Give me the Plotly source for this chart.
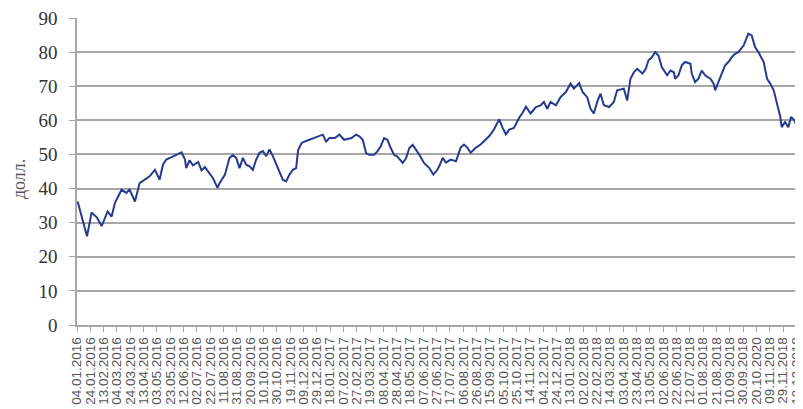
import pandas as pd
import plotly.graph_objects as go

START = "2016-01-04"

# days since 04.01.2016 and price (долл.)
day_offset = [
    1, 7, 11, 15, 22, 30, 37, 46, 52, 57, 67, 74, 79, 87, 94, 102, 109, 117,
    124, 129, 134, 142, 149, 157, 162, 164, 169, 174, 182, 187, 192, 197, 204,
    211, 214, 222, 229, 234, 239, 244, 249, 254, 259, 264, 269, 274, 279, 284,
    289, 294, 299, 304, 309, 314, 319, 324, 329, 332, 337, 342, 349, 357, 364,
    369, 374, 379, 387, 394, 401, 412, 419, 424, 429, 434, 439, 446, 451, 456,
    461, 466, 471, 476, 481, 489, 494, 499, 504, 509, 514, 521, 529, 535, 541,
    544, 549, 554, 561, 569, 576, 581, 586, 591, 599, 606, 614, 619, 626, 634,
    639, 644, 649, 656, 664, 669, 674, 681, 689, 696, 701, 706, 711, 719, 726,
    734, 741, 746, 754, 759, 766, 771, 776, 781, 786, 791, 799, 806, 811, 821,
    826, 831, 836, 841, 849, 854, 858, 863, 868, 873, 878, 886, 891, 896, 898,
    903, 908, 913, 921, 923, 928, 933, 938, 943, 951, 956, 958, 963, 968, 973,
    978, 983, 988, 993, 1001, 1006, 1008, 1013, 1018, 1023, 1031, 1036, 1041,
    1046, 1051, 1056, 1058, 1063, 1068, 1072, 1077, 1081, 1086, 1088,
]
price = [
    36.2, 31.5, 29.0, 26.0, 33.0, 31.5, 29.0, 33.3, 31.8, 35.8, 39.7, 38.7,
    39.7, 36.2, 41.6, 42.6, 43.6, 45.5, 42.6, 47.0, 48.5, 49.2, 49.9, 50.6,
    48.6, 46.0, 48.3, 46.8, 47.8, 45.3, 46.3, 44.8, 43.1, 40.2, 41.6, 44.0,
    49.0, 49.8, 49.0, 46.0, 49.0, 47.0, 46.5, 45.5, 48.5, 50.5, 51.0, 49.5,
    51.5, 49.5, 47.0, 44.6, 42.6, 42.1, 44.1, 45.5, 46.0, 51.3, 53.3, 53.8,
    54.3, 54.8, 55.3, 55.8, 53.8, 54.8, 54.8, 55.8, 54.3, 54.8, 55.8, 55.3,
    54.3, 50.4, 49.9, 49.9, 50.9, 52.4, 54.8, 54.3, 51.9, 49.9, 49.4, 47.5,
    48.9, 51.9, 52.8, 51.4, 49.9, 47.5, 46.0, 44.1, 45.5, 46.6, 49.0, 47.6,
    48.5, 48.0, 52.0, 52.9, 52.0, 50.5, 52.0, 52.9, 54.4, 55.4, 57.3, 60.3,
    57.8, 55.9, 57.3, 57.8, 60.8, 62.2, 64.0, 62.0, 63.9, 64.4, 65.4, 63.4,
    65.4, 64.4, 66.8, 68.3, 70.8, 69.3, 70.9, 68.3, 66.8, 63.4, 62.0, 65.4,
    67.8, 64.4, 63.9, 65.4, 68.8, 69.3, 65.8, 72.2, 74.1, 75.1, 73.7, 75.1,
    77.6, 78.5, 80.0, 79.0, 75.6, 73.2, 74.6, 74.1, 72.2, 73.2, 76.1, 77.1,
    76.6, 73.7, 71.2, 72.2, 74.6, 73.2, 72.2, 70.7, 68.8, 71.2, 73.7, 76.1,
    77.1, 78.5, 79.5, 80.0, 82.0, 84.4, 85.4, 84.9, 81.5, 80.0, 77.1, 72.2,
    70.7, 68.8, 64.9, 61.0, 58.0, 59.5, 58.0, 61.0, 60.0, 58.0, 52.2, 51.0,
]

# x tick labels every 20 days (as printed, including the "2020" slip)
tick_labels = [
    "04.01.2016", "24.01.2016", "13.02.2016", "04.03.2016", "24.03.2016",
    "13.04.2016", "03.05.2016", "23.05.2016", "12.06.2016", "02.07.2016",
    "22.07.2016", "11.08.2016", "31.08.2016", "20.09.2016", "10.10.2016",
    "30.10.2016", "19.11.2016", "09.12.2016", "29.12.2016", "18.01.2017",
    "07.02.2017", "27.02.2017", "19.03.2017", "08.04.2017", "28.04.2017",
    "18.05.2017", "07.06.2017", "27.06.2017", "17.07.2017", "06.08.2017",
    "26.08.2017", "15.09.2017", "05.10.2017", "25.10.2017", "14.11.2017",
    "04.12.2017", "24.12.2017", "13.01.2018", "02.02.2018", "22.02.2018",
    "14.03.2018", "03.04.2018", "23.04.2018", "13.05.2018", "02.06.2018",
    "22.06.2018", "12.07.2018", "01.08.2018", "21.08.2018", "10.09.2018",
    "30.09.2018", "20.10.2020", "09.11.2018", "29.11.2018", "19.12.2018",
]
y_ticks = [0, 10, 20, 30, 40, 50, 60, 70, 80, 90]

dates = pd.to_datetime(START) + pd.to_timedelta(day_offset, unit="D")
tick_vals = pd.date_range(START, periods=len(tick_labels), freq="20D")

GRID = "#a6a6a6"

# the page body adds 8px around the figure, so the figure is 8px smaller
fig = go.Figure(
    go.Scatter(
        x=dates,
        y=price,
        mode="lines",
        line=dict(color="#283a8e", width=2),
        hoverinfo="skip",
    )
)

fig.add_annotation(
    x=-0.08,
    y=0.475,
    xref="paper",
    yref="paper",
    xanchor="center",
    yanchor="middle",
    text="долл.",
    textangle=-90,
    showarrow=False,
    font=dict(family="Liberation Serif", size=18, color="#555555"),
)

fig.update_layout(
    width=795,
    height=401,
    margin=dict(l=69, r=0, t=10, b=84, autoexpand=False),
    plot_bgcolor="#ffffff",
    paper_bgcolor="#ffffff",
    showlegend=False,
    xaxis=dict(
        range=[pd.Timestamp(START), pd.Timestamp("2018-12-29")],
        tickvals=tick_vals,
        ticktext=tick_labels,
        tickangle=-90,
        ticks="outside",
        ticklen=5,
        tickcolor=GRID,
        ticklabeloverflow="allow",
        showgrid=False,
        showline=True,
        linecolor=GRID,
        linewidth=1.5,
        zeroline=False,
        automargin=False,
        tickfont=dict(family="Liberation Sans", size=13.5, color="#555555"),
    ),
    yaxis=dict(
        range=[0, 90],
        tickvals=y_ticks,
        ticks="outside",
        ticklen=6,
        tickcolor=GRID,
        ticklabelstandoff=8,
        ticklabeloverflow="allow",
        showgrid=True,
        gridcolor=GRID,
        gridwidth=1.5,
        showline=True,
        linecolor=GRID,
        linewidth=1.5,
        zeroline=False,
        automargin=False,
        tickfont=dict(family="Liberation Serif", size=19, color="#333333"),
    ),
)

fig.write_html("out.html")
